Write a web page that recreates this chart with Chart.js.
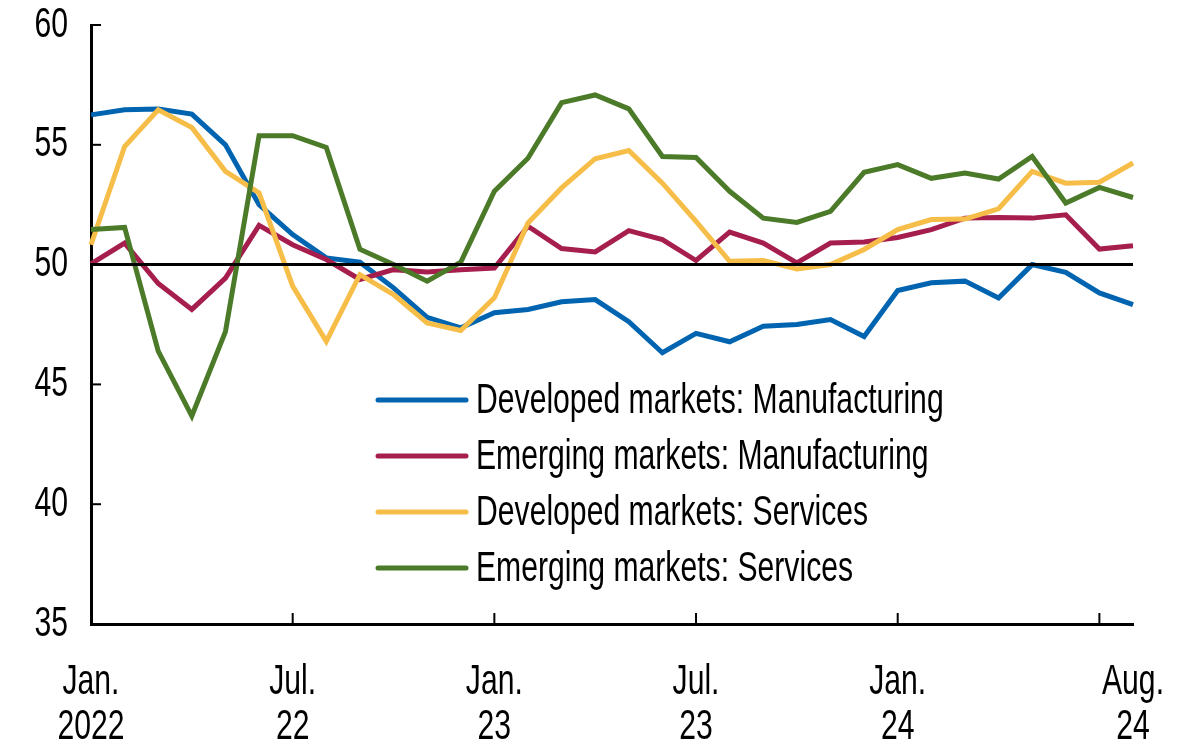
<!DOCTYPE html>
<html>
<head>
<meta charset="utf-8">
<script src="https://cdn.jsdelivr.net/npm/chart.js@4/dist/chart.umd.min.js"></script>
<style>
  html, body { margin: 0; padding: 0; background: #fff; }
  #wrap { width: 1187px; height: 744px; }
</style>
</head>
<body>
<div id="wrap"><canvas id="pmiChart" width="1187" height="744"></canvas></div>
<script>
// months Jan 2022 .. Aug 2024
const months = [
  'Jan22','Feb22','Mar22','Apr22','May22','Jun22','Jul22','Aug22','Sep22','Oct22','Nov22','Dec22',
  'Jan23','Feb23','Mar23','Apr23','May23','Jun23','Jul23','Aug23','Sep23','Oct23','Nov23','Dec23',
  'Jan24','Feb24','Mar24','Apr24','May24','Jun24','Jul24','Aug24'
]

const dmManufacturing = [
  56.25, 56.46, 56.49, 56.28, 55.0, 52.5, 51.25, 50.28, 50.1, 49.03, 47.8, 47.36,
  47.99, 48.13, 48.45, 48.54, 47.62, 46.32, 47.13, 46.78, 47.43, 47.5, 47.71, 47.0,
  48.92, 49.24, 49.31, 48.61, 50.0, 49.68, 48.82, 48.33
]
const emManufacturing = [
  50.03, 50.9, 49.21, 48.13, 49.44, 51.64, 50.83, 50.21, 49.38, 49.79, 49.69, 49.79,
  49.86, 51.6, 50.67, 50.53, 51.42, 51.04, 50.17, 51.36, 50.9, 50.07, 50.9, 50.94,
  51.13, 51.46, 51.94, 51.97, 51.94, 52.08, 50.65, 50.79
]
const dmServices = [
  50.83, 54.93, 56.46, 55.72, 53.89, 52.99, 49.1, 46.8, 49.58, 48.75, 47.57, 47.25,
  48.61, 51.74, 53.2, 54.42, 54.76, 53.4, 51.8, 50.14, 50.17, 49.82, 50.0, 50.63,
  51.46, 51.88, 51.9, 52.33, 53.89, 53.4, 53.44, 54.24
]
const emServices = [
  51.46, 51.55, 46.39, 43.68, 47.2, 55.38, 55.38, 54.89, 50.64, 50.0, 49.31, 50.1,
  53.06, 54.44, 56.76, 57.08, 56.5, 54.51, 54.47, 53.06, 51.94, 51.76, 52.22, 53.85,
  54.17, 53.6, 53.82, 53.57, 54.51, 52.57, 53.22, 52.8
]

const seriesNames = [
  'Developed markets: Manufacturing',
  'Emerging markets: Manufacturing',
  'Developed markets: Services',
  'Emerging markets: Services'
]
const seriesColors = ['#0064B0', '#A61E4D', '#F6BE48', '#4B7A29']

// x-axis labels shown at these month indexes, tick marks at the others
const labelIdx = [0, 6, 12, 18, 24, 31]
const labelText = [['Jan.','2022'], ['Jul.','22'], ['Jan.','23'], ['Jul.','23'], ['Jan.','24'], ['Aug.','24']]
const tickIdx = [6, 12, 18, 24, 30]

const yMin = 35
const yMax = 60
const yStep = 5
const refLine = 50

const FONT = "'Liberation Sans', Arial, sans-serif"
const FONT_SIZE = 42
const NARROW = 0.718   // squeeze text horizontally, source uses a narrow face

// draw narrow text at (x, y)
const narrowText = (ctx, txt, x, y, align) => {
  ctx.save()
  ctx.translate(x, y)
  ctx.scale(NARROW, 1)
  ctx.textAlign = align
  ctx.fillText(txt, 0, 0)
  ctx.restore()
}

// inner ticks, 50 line, tick labels, legend
const extras = {
  id: 'extras',
  afterDatasetsDraw(chart) {
    const ctx = chart.ctx
    const x = chart.scales.x
    const y = chart.scales.y
    const area = chart.chartArea
    ctx.save()
    ctx.strokeStyle = '#000'
    ctx.lineWidth = 3

    // 50 line
    let y50 = y.getPixelForValue(refLine)
    ctx.beginPath()
    ctx.moveTo(area.left, y50)
    ctx.lineTo(area.right, y50)
    ctx.stroke()

    // x tick marks (inside)
    ctx.lineWidth = 2
    tickIdx.forEach(i => {
      let px = x.getPixelForValue(i)
      ctx.beginPath()
      ctx.moveTo(px, area.bottom)
      ctx.lineTo(px, area.bottom - 11)
      ctx.stroke()
    })
    // y tick marks (inside)
    for (let v = yMin + yStep; v <= yMax; v += yStep) {
      let py = y.getPixelForValue(v)
      ctx.beginPath()
      ctx.moveTo(area.left, py)
      ctx.lineTo(area.left + 10, py)
      ctx.stroke()
    }

    ctx.font = `${FONT_SIZE}px ${FONT}`
    ctx.textBaseline = 'middle'
    ctx.fillStyle = '#000'

    // y labels
    for (let v = yMin; v <= yMax; v += yStep) {
      narrowText(ctx, String(v), 68, y.getPixelForValue(v), 'right')
    }
    // x labels
    labelIdx.forEach((i, k) => {
      let px = x.getPixelForValue(i)
      narrowText(ctx, labelText[k][0], px, 682, 'center')
      narrowText(ctx, labelText[k][1], px, 727, 'center')
    })

    // legend
    ctx.lineCap = 'round'
    seriesNames.forEach((name, i) => {
      let ly = 400 + i * 56
      ctx.strokeStyle = seriesColors[i]
      ctx.lineWidth = 5
      ctx.beginPath()
      ctx.moveTo(378, ly)
      ctx.lineTo(466, ly)
      ctx.stroke()
      narrowText(ctx, name, 476, ly + 1, 'left')
    })
    ctx.restore()
  }
}

const datasets = [dmManufacturing, emManufacturing, dmServices, emServices].map((d, i) => ({
  label: seriesNames[i],
  data: d,
  borderColor: seriesColors[i],
  backgroundColor: seriesColors[i],
  borderWidth: 5,
  pointRadius: 0,
  tension: 0,
  order: 4 - i,
  clip: false
}))

new Chart(document.getElementById('pmiChart'), {
  type: 'line',
  data: { labels: months, datasets: datasets },
  options: {
    responsive: false,
    animation: false,
    layout: { padding: { top: 25, right: 54, left: 0, bottom: 0 } },
    plugins: { legend: { display: false }, tooltip: { enabled: false } },
    scales: {
      x: {
        offset: false,
        grid: { display: false, drawTicks: false },
        border: { color: '#000', width: 3 },
        afterFit: s => { s.height = 120 },
        ticks: { display: false, autoSkip: false }
      },
      y: {
        min: yMin,
        max: yMax,
        grid: { display: false, drawTicks: false },
        border: { color: '#000', width: 3 },
        afterFit: s => { s.width = 91 },
        ticks: { display: false, stepSize: yStep }
      }
    }
  },
  plugins: [extras]
})
</script>
</body>
</html>
